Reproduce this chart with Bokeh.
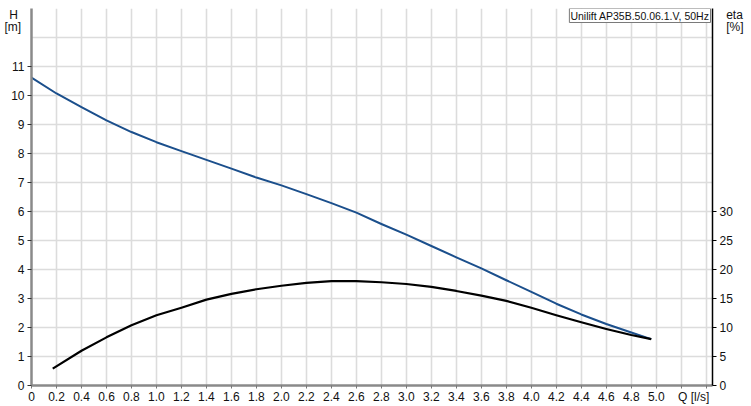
from bokeh.plotting import figure
from bokeh.models import Range1d, LinearAxis, FixedTicker, Label, PrintfTickFormatter
from bokeh.embed import file_html
from bokeh.resources import INLINE

# Pump head curve H [m] vs Q [l/s]
q_h = [0.0, 0.2, 0.4, 0.6, 0.8, 1.0, 1.2, 1.4, 1.6, 1.8, 2.0, 2.2, 2.4, 2.6, 2.8,
       3.0, 3.2, 3.4, 3.6, 3.8, 4.0, 4.2, 4.4, 4.6, 4.8, 4.96]
h = [10.62, 10.07, 9.60, 9.14, 8.74, 8.39, 8.08, 7.78, 7.48, 7.17, 6.90, 6.60, 6.29,
     5.96, 5.57, 5.20, 4.81, 4.42, 4.04, 3.63, 3.23, 2.82, 2.45, 2.12, 1.83, 1.60]

# Efficiency curve eta [%] vs Q [l/s]
q_eta = [0.17, 0.4, 0.6, 0.8, 1.0, 1.2, 1.4, 1.6, 1.8, 2.0, 2.2, 2.4, 2.6, 2.8, 3.0,
         3.2, 3.4, 3.6, 3.8, 4.0, 4.2, 4.4, 4.6, 4.8, 4.96]
eta = [2.9, 6.0, 8.3, 10.4, 12.1, 13.4, 14.8, 15.8, 16.6, 17.2, 17.7, 18.0, 18.0, 17.8,
       17.5, 17.0, 16.3, 15.5, 14.6, 13.4, 12.1, 10.9, 9.75, 8.7, 8.0]

# ticks / grid
x_grid = [0.2, 0.4, 0.6, 0.8, 1.0, 1.2, 1.4, 1.6, 1.8, 2.0, 2.2, 2.4, 2.6, 2.8,
          3.0, 3.2, 3.4, 3.6, 3.8, 4.0, 4.2, 4.4, 4.6, 4.8, 5.0, 5.2, 5.4]
x_tick_marks = [0.0] + x_grid
x_labelled = [0.0, 0.2, 0.4, 0.6, 0.8, 1.0, 1.2, 1.4, 1.6, 1.8, 2.0, 2.2, 2.4, 2.6, 2.8,
              3.0, 3.2, 3.4, 3.6, 3.8, 4.0, 4.2, 4.4, 4.6, 4.8, 5.0]
h_ticks = [0, 1, 2, 3, 4, 5, 6, 7, 8, 9, 10, 11]
h_grid = [1, 2, 3, 4, 5, 6, 7, 8, 9, 10, 11, 12, 13]
eta_ticks = [0, 5, 10, 15, 20, 25, 30]

title_text = "Unilift AP35B.50.06.1.V, 50Hz"
x_unit = "Q [l/s]"
h_name, h_unit = "H", "[m]"
eta_name, eta_unit = "eta", "[%]"

# positions of the unit captions in axis units (name line, unit line)
H_NAME_POS, H_UNIT_POS = 12.77, 12.36
ETA_SCALE = 5.0
X_UNIT_POS = 5.3

FONT = "Liberation Sans"
GRID = "#dcdcdc"
NB = "\u00a0"

p = figure(width=751, height=406, output_backend="svg", toolbar_location=None,
           x_range=Range1d(0, 5.45), y_range=Range1d(0, 13),
           min_border_left=31, min_border_right=39, min_border_top=8, min_border_bottom=18,
           background_fill_color="white", border_fill_color="white")
p.outline_line_color = None
p.extra_y_ranges = {"eta": Range1d(0, 13 * ETA_SCALE)}

p.xgrid.ticker = FixedTicker(ticks=x_grid)
p.ygrid.ticker = FixedTicker(ticks=h_grid)
for g in (p.xgrid, p.ygrid):
    g.grid_line_color = GRID
    g.grid_line_width = 1.6

xa = p.xaxis[0]
xa.ticker = FixedTicker(ticks=x_labelled + [X_UNIT_POS], minor_ticks=x_tick_marks)
xa.formatter = PrintfTickFormatter(format="%.1f")
xa.major_label_overrides = {0.0: "0", X_UNIT_POS: x_unit}

ya = p.yaxis[0]
ya.ticker = FixedTicker(ticks=h_ticks + [H_UNIT_POS, H_NAME_POS], minor_ticks=h_ticks)
ya.major_label_overrides = {H_UNIT_POS: h_unit + NB, H_NAME_POS: h_name + NB * 2}

e_unit_pos = round(H_UNIT_POS * ETA_SCALE, 2)
e_name_pos = round(H_NAME_POS * ETA_SCALE, 2)
ra = LinearAxis(y_range_name="eta",
                ticker=FixedTicker(ticks=eta_ticks + [e_unit_pos, e_name_pos], minor_ticks=eta_ticks))
ra.major_label_overrides = {e_unit_pos: NB * 2 + eta_unit, e_name_pos: NB * 2 + eta_name}
p.add_layout(ra, "right")

for ax in (xa, ya, ra):
    ax.major_tick_line_color = None
    ax.major_tick_in = 0
    ax.major_tick_out = 4
    ax.minor_tick_in = 0
    ax.minor_tick_out = 4
    ax.minor_tick_line_color = "#333333"
    ax.major_label_standoff = 3
    ax.major_label_text_font = FONT
    ax.major_label_text_font_size = "12px"
    ax.major_label_text_color = "#111111"
xa.major_tick_out = 0
xa.minor_tick_out = 3
xa.major_label_standoff = 1
xa.minor_tick_line_color = "#777777"
xa.axis_line_color = "#8a8a8a"
xa.axis_line_width = 2.5
ya.axis_line_color = "#8a8a8a"
ya.axis_line_width = 2.5
ra.axis_line_color = "#000000"
ra.axis_line_width = 1.5
ra.minor_tick_line_color = "#000000"

p.line(q_h, h, line_color="#1b4f8c", line_width=2, line_join="round")
p.line(q_eta, eta, y_range_name="eta", line_color="#000000", line_width=2.2, line_join="round")

p.add_layout(Label(x=5.45, y=13, x_offset=-2, y_offset=0, text=title_text,
                   text_align="right", text_baseline="top", text_font=FONT,
                   text_font_size="10.5px", text_color="#111111",
                   background_fill_color="white", border_line_color="#7a7a7a",
                   border_line_width=1, padding=1))

open("out.html", "w").write(file_html(p, INLINE))
